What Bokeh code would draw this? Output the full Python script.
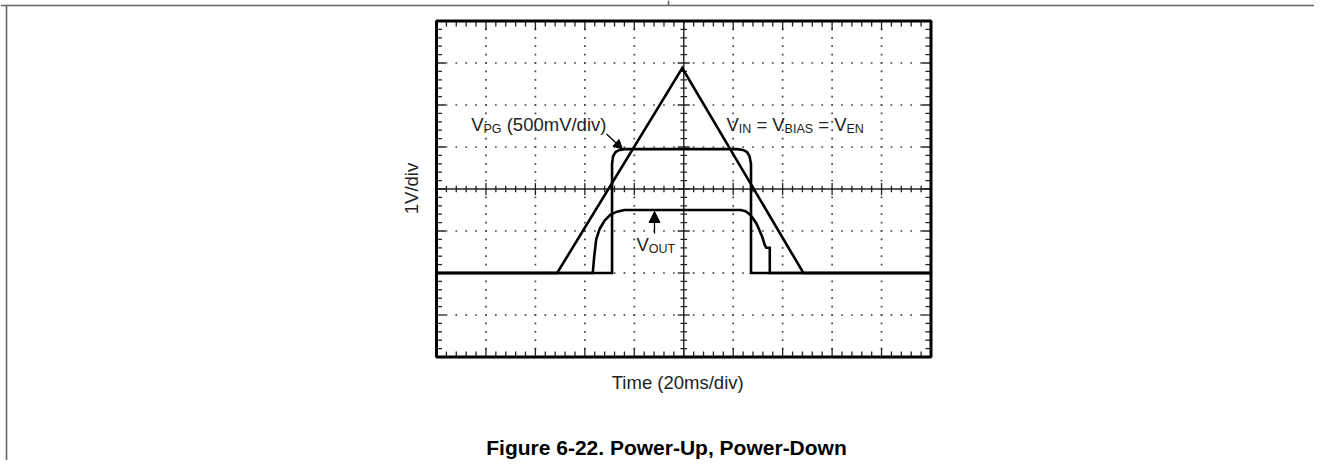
import numpy as np
from bokeh.plotting import figure
from bokeh.models import Range1d, Arrow, NormalHead
from bokeh.core.properties import value
from bokeh.embed import file_html
from bokeh.resources import INLINE

# ---------------- data (screen divisions: x = 20 ms/div, y = 1 V/div on screen) ----------------
vin_x = [0.0, 2.44, 4.97, 7.42, 10.0]
vin_y = [2.0, 2.0, 6.88, 2.0, 2.0]

vpg_x = [0.0, 3.55, 3.55, 3.57, 3.62, 3.70, 3.80, 6.08, 6.20, 6.28, 6.33, 6.36, 6.36, 10.0]
vpg_y = [2.0, 2.0, 4.60, 4.78, 4.88, 4.93, 4.95, 4.95, 4.93, 4.88, 4.78, 4.60, 2.0, 2.0]

vout_x = [0.0, 3.16, 3.19, 3.23, 3.30, 3.40, 3.52, 3.65, 3.80, 6.15, 6.25, 6.33, 6.40,
          6.47, 6.53, 6.59, 6.64, 6.67, 6.74, 6.74, 10.0]
vout_y = [2.0, 2.0, 2.4, 2.8, 3.05, 3.25, 3.39, 3.46, 3.50, 3.50, 3.47, 3.40, 3.30,
          3.18, 3.02, 2.85, 2.66, 2.60, 2.60, 2.0, 2.0]

n_xdiv = 10
n_ydiv = 8

x_label = "Time (20ms/div)"
y_label = "1V/div"
caption = "Figure 6-22. Power-Up, Power-Down"

# ---------------- layout ----------------
W, H = 1314, 460             # fits the 1330x476 window with its 8px page margin
X0, SX = 436.0, 49.45        # px of x=0, px per division
Y0, SY = 356.5, 42.0         # px (from top) of y=0, px per division
TDY = 7                      # baseline correction for the text glyphs


def gx(px):   # pixel -> division units
    return (px - X0) / SX


def gy(py):
    return (Y0 - py) / SY


p = figure(width=W, height=H, output_backend="svg", toolbar_location=None,
           x_range=Range1d(-X0 / SX, (W - X0) / SX),
           y_range=Range1d(-(H - Y0) / SY, Y0 / SY),
           x_axis_type=None, y_axis_type=None, min_border=0)
p.title.visible = False
p.outline_line_color = None
p.background_fill_color = "white"
p.border_fill_color = "white"

FONT = value("Liberation Sans")
INK = "#222222"
RULE = "#666666"

# page rules
p.segment(x0=[gx(0), gx(668), gx(6)], y0=[gy(5), gy(0), gy(5)],
          x1=[gx(1330), gx(668), gx(6)], y1=[gy(5), gy(5), gy(480)],
          line_color=RULE, line_width=1.6)

# ---------------- graticule ----------------
minor = np.round(np.arange(0, n_xdiv + 0.001, 0.2), 2)
minor_y = np.round(np.arange(0, n_ydiv + 0.001, 0.2), 2)

# dotted grid
dx, dy = [], []
for k in range(1, n_xdiv):
    if k == n_xdiv // 2:
        continue
    for v in minor_y[1:-1]:
        dx.append(k); dy.append(v)
for k in range(1, n_ydiv):
    if k == n_ydiv // 2:
        continue
    for v in minor[1:-1]:
        dx.append(v); dy.append(k)
p.scatter(dx, dy, marker="square", size=1.7, fill_color="#444444", line_color=None)

# ticks on the frame and center axes
sx0, sy0, sx1, sy1 = [], [], [], []
for v in minor:
    big = abs(v - round(v)) < 1e-6
    L = (9 if big else 5.5) / SY
    sx0 += [v, v]; sy0 += [n_ydiv, 0]; sx1 += [v, v]; sy1 += [n_ydiv - L, L]
    l = (6 if big else 3.3) / SY
    sx0.append(v); sy0.append(n_ydiv / 2 - l); sx1.append(v); sy1.append(n_ydiv / 2 + l)
for v in minor_y:
    big = abs(v - round(v)) < 1e-6
    L = (9 if big else 5.5) / SX
    sx0 += [0, n_xdiv]; sy0 += [v, v]; sx1 += [L, n_xdiv - L]; sy1 += [v, v]
    l = (6 if big else 3.3) / SX
    sx0.append(n_xdiv / 2 - l); sy0.append(v); sx1.append(n_xdiv / 2 + l); sy1.append(v)
p.segment(sx0, sy0, sx1, sy1, line_color=INK, line_width=1.3)

# center cross
p.segment([0, n_xdiv / 2], [n_ydiv / 2, 0], [n_xdiv, n_xdiv / 2], [n_ydiv / 2, n_ydiv],
          line_color=INK, line_width=1.4)

# frame
p.quad(left=[0], right=[n_xdiv], bottom=[0], top=[n_ydiv], fill_color=None,
       line_color="black", line_width=3)

# ---------------- traces ----------------
for xs, ys in ((vin_x, vin_y), (vpg_x, vpg_y), (vout_x, vout_y)):
    p.line(xs, ys, line_color="black", line_width=2.6, line_join="miter")

# ---------------- annotations ----------------
def txt(xp, yp, s, size, color=INK, style="normal", align="left"):
    p.text(x=[gx(xp)], y=[gy(yp - TDY)], text=[s], text_font=FONT, text_font_size=size,
           text_color=color, text_font_style=style, text_align=align,
           text_baseline="alphabetic")


BIG, SUB = "18.5px", "12.5px"
base = 131
sub = 135.5
txt(470.7, base, "V", BIG)
txt(483.0, sub, "PG", SUB)
txt(506.2, base, "(500mV/div)", BIG)

txt(726.0, base, "V", BIG)
txt(738.3, sub, "IN", SUB)
txt(755.9, base, "= V", BIG)
txt(784.1, sub, "BIAS", SUB)
txt(817.7, base, "= V", BIG)
txt(845.9, sub, "EN", SUB)

txt(636.0, 251, "V", BIG)
txt(648.3, 255.5, "OUT", SUB)

p.add_layout(Arrow(end=NormalHead(size=9, fill_color="black", line_color="black", line_width=1),
                   x_start=gx(606), y_start=gy(133.5), x_end=gx(622), y_end=gy(148.5),
                   line_color="black", line_width=1.3))
p.add_layout(Arrow(end=NormalHead(size=11, fill_color="black", line_color="black", line_width=1),
                   x_start=gx(654), y_start=gy(233), x_end=gx(654), y_end=gy(211),
                   line_color="black", line_width=1.3))

txt(677.2, 389, x_label, BIG, align="center")
p.text(x=[gx(411)], y=[gy(188)], text=[y_label], text_font=FONT, text_font_size=BIG,
       text_color=INK, text_align="center", text_baseline="middle", angle=np.pi / 2)
txt(666, 454, caption, "21px", color="black", style="bold", align="center")

open("out.html", "w").write(file_html(p, INLINE))
